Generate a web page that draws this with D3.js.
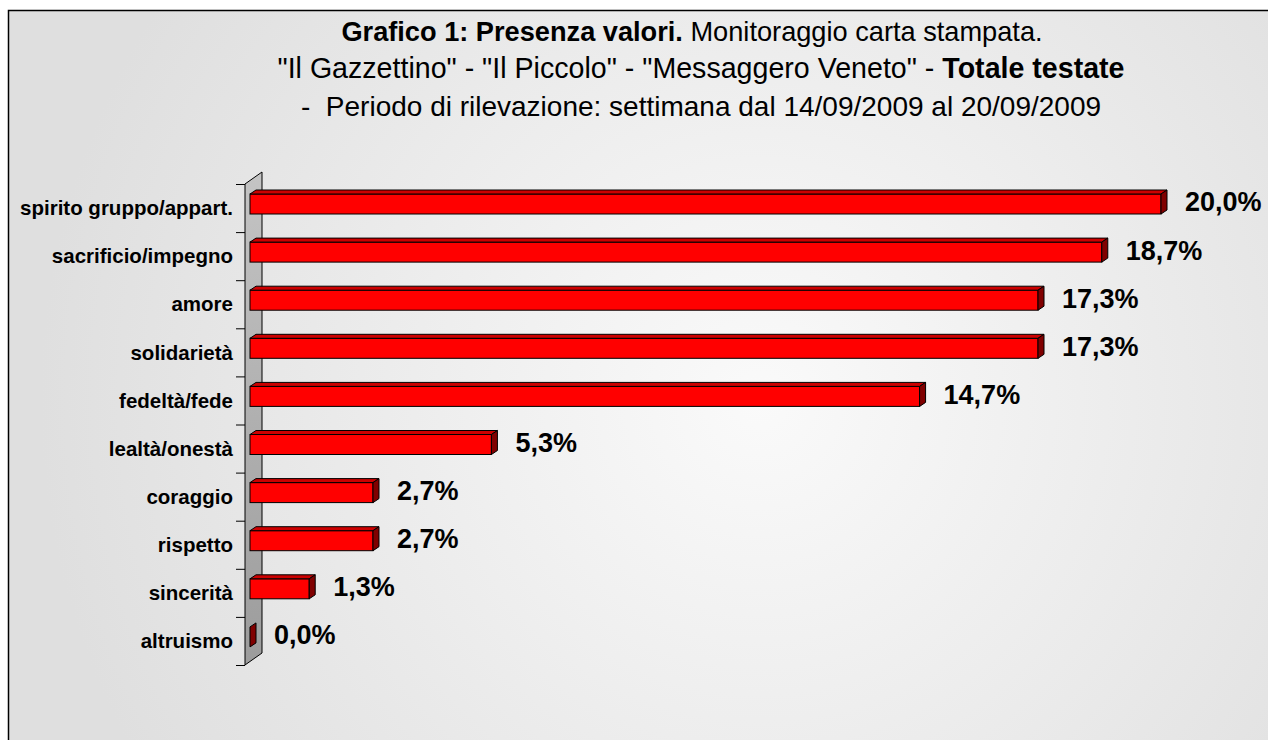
<!DOCTYPE html>
<html>
<head>
<meta charset="utf-8">
<script src="https://cdn.jsdelivr.net/npm/d3@7"></script>
<style>
  html, body { margin: 0; padding: 0; background: #fff; }
  svg { display: block; font-family: "Liberation Sans", Arial, sans-serif; }
</style>
</head>
<body>
<svg id="chart"></svg>
<script>
// Presenza valori - totale testate
const categories = ["spirito gruppo/appart.", "sacrificio/impegno", "amore", "solidarietà",
  "fedeltà/fede", "lealtà/onestà", "coraggio", "rispetto", "sincerità", "altruismo"];
const values = [20.0, 18.7, 17.3, 17.3, 14.7, 5.3, 2.7, 2.7, 1.3, 0.0];
const valueLabels = ["20,0%", "18,7%", "17,3%", "17,3%", "14,7%", "5,3%", "2,7%", "2,7%", "1,3%", "0,0%"];

var width = 1268;
var height = 740;

const svg = d3.select("#chart").attr("width", width).attr("height", height);
const defs = svg.append("defs");

const bg = defs.append("radialGradient").attr("id", "bg")
    .attr("gradientUnits", "userSpaceOnUse")
    .attr("cx", 760).attr("cy", 400).attr("r", 720);
bg.append("stop").attr("offset", "0").attr("stop-color", "#fafafa");
bg.append("stop").attr("offset", "1").attr("stop-color", "#dfdfdf");

const wallGrad = defs.append("linearGradient").attr("id", "wall")
    .attr("x1", 0).attr("y1", 0).attr("x2", 0).attr("y2", 1);
wallGrad.append("stop").attr("offset", "0").attr("stop-color", "#c4c4c4");
wallGrad.append("stop").attr("offset", "1").attr("stop-color", "#9c9c9c");

// frame
svg.append("rect")
    .attr("x", 8.5).attr("y", 10.5)
    .attr("width", 1300).attr("height", 800)
    .attr("fill", "url(#bg)")
    .attr("stroke", "#000").attr("stroke-width", 1.5);

// title
const title = svg.append("text")
    .attr("x", 700).attr("text-anchor", "middle")
    .attr("font-size", 28).attr("fill", "#000")
    .style("white-space", "pre");
const l1 = title.append("tspan").attr("x", 692).attr("y", 41).attr("font-size", 27.2);
l1.append("tspan").attr("font-weight", "bold").text("Grafico 1: Presenza valori.");
l1.append("tspan").text(" Monitoraggio carta stampata.");
const l2 = title.append("tspan").attr("x", 701).attr("y", 78).attr("font-size", 28.6);
l2.append("tspan").text("\"Il Gazzettino\" - \"Il Piccolo\" - \"Messaggero Veneto\" - ");
l2.append("tspan").attr("font-weight", "bold").text("Totale testate");
title.append("tspan").attr("x", 701).attr("y", 116)
    .text("-  Periodo di rilevazione: settimana dal 14/09/2009 al 20/09/2009");

// scales
const y = d3.scaleBand().domain(categories).range([184, 665]);
const x = d3.scaleLinear().domain([0, 20]).range([250, 1161]);

const depthX = 17, depthY = 12;   // side wall depth
const bx = 6, by = 4;             // bar depth
const barOff = 10, barH = 20;

// side wall
const x0 = 245;
svg.append("path")
    .attr("d", `M${x0},${y.range()[0]} L${x0 + depthX},${y.range()[0] - depthY} L${x0 + depthX},${y.range()[1] - depthY} L${x0},${y.range()[1]} Z`)
    .attr("fill", "url(#wall)")
    .attr("stroke", "#000").attr("stroke-width", 1);

// ticks
const tickYs = categories.map(c => y(c)).concat([y.range()[1]]);
svg.selectAll("line.tick").data(tickYs).join("line")
    .attr("class", "tick")
    .attr("x1", x0 - 9).attr("x2", x0)
    .attr("y1", d => d + 0.5).attr("y2", d => d + 0.5)
    .attr("stroke", "#000").attr("stroke-width", 1);

// category labels
svg.selectAll("text.cat").data(categories).join("text")
    .attr("class", "cat")
    .attr("x", 233)
    .attr("y", d => y(d) + y.bandwidth() / 2)
    .attr("dy", "0.35em")
    .attr("text-anchor", "end")
    .attr("font-size", 20.5).attr("font-weight", "bold")
    .text(d => d);

// bars
const bars = svg.selectAll("g.bar").data(values).join("g").attr("class", "bar");
bars.each(function(v, i) {
  const g = d3.select(this);
  const top = y(categories[i]) + barOff;
  const xa = x(0), xb = x(v);
  if (v > 0) {
    g.append("rect")
        .attr("x", xa).attr("y", top)
        .attr("width", xb - xa).attr("height", barH)
        .attr("fill", "#ff0000").attr("stroke", "#000").attr("stroke-width", 1);
    g.append("path")
        .attr("d", `M${xa},${top} L${xa + bx},${top - by} L${xb + bx},${top - by} L${xb},${top} Z`)
        .attr("fill", "#cc0000").attr("stroke", "#000").attr("stroke-width", 1);
  }
  g.append("path")
      .attr("d", `M${xb},${top} L${xb + bx},${top - by} L${xb + bx},${top + barH - by} L${xb},${top + barH} Z`)
      .attr("fill", "#800000").attr("stroke", "#000").attr("stroke-width", 1);
});

// value labels
svg.selectAll("text.val").data(values).join("text")
    .attr("class", "val")
    .attr("x", d => x(d) + bx + 18)
    .attr("y", (d, i) => y(categories[i]) + barOff + barH / 2 - 2)
    .attr("dy", "0.35em")
    .attr("font-size", 27).attr("font-weight", "bold")
    .text((d, i) => valueLabels[i]);
</script>
</body>
</html>
